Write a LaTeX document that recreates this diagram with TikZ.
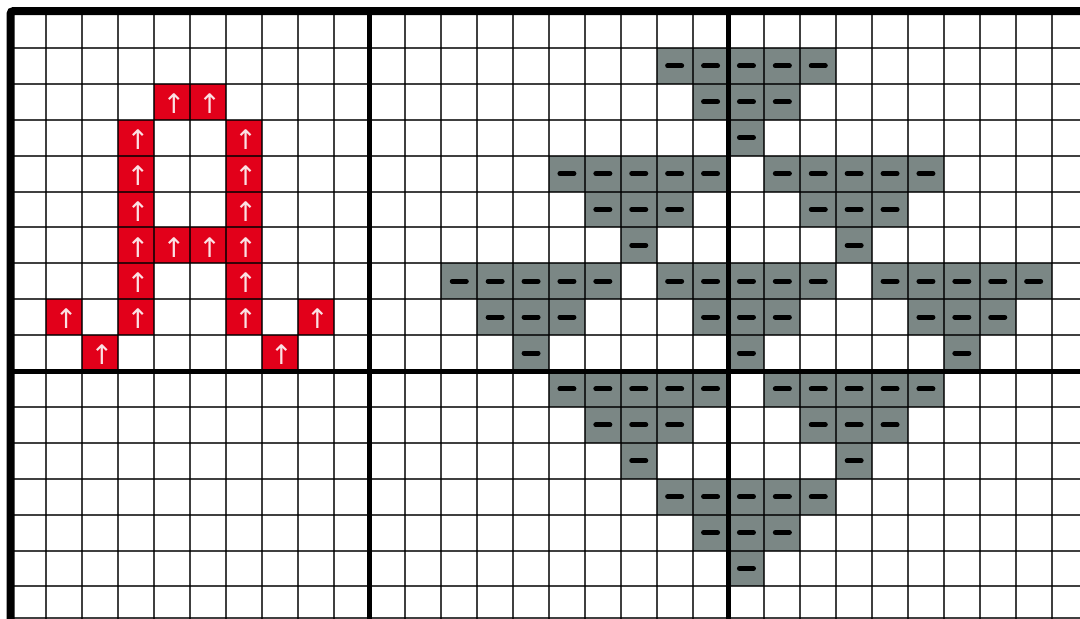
\documentclass[tikz,border=0pt]{standalone}
\usepackage{fontspec}
\newfontfamily\symfont{DejaVu Sans}
\definecolor{stitchred}{RGB}{226,0,26}
\definecolor{stitchgray}{RGB}{123,135,133}
\tikzset{
  thinline/.style={draw=black, draw opacity=0.75, line width=2pt},
  thickline/.style={draw=black, line width=5pt},
  borderline/.style={draw=black, line width=8pt, rounded corners=3pt},
  redcell/.style={fill=stitchred},
  graycell/.style={fill=stitchgray},
  arrowmark/.style={text=white!88!stitchred, inner sep=0pt, font=\symfont\fontsize{27}{27}\selectfont},
  dashmark/.style={draw=black, line width=5pt, line cap=round}
}
\begin{document}
\begin{tikzpicture}[x=1pt,y=-1pt]
\useasboundingbox (0,0) rectangle (1080,619);
\fill[white] (0,0) rectangle (1080,619);
\def\cs{35.9}
\def\ox{10.5}
\def\oy{12}
% red cells (letter A)
\foreach \c/\r in {4/2,5/2,3/3,6/3,3/4,6/4,3/5,6/5,3/6,4/6,5/6,6/6,3/7,6/7,1/8,3/8,6/8,8/8,2/9,7/9}{
  \path[redcell] ({\ox+\c*\cs},{\oy+\r*\cs}) rectangle ({\ox+(\c+1)*\cs},{\oy+(\r+1)*\cs});
}
% gray triangles
\foreach \tc/\tr in {18/1,15/4,21/4,12/7,18/7,24/7,15/10,21/10,18/13}{
  \foreach \dc/\dr in {0/0,1/0,2/0,3/0,4/0,1/1,2/1,3/1,2/2}{
    \pgfmathsetmacro\cc{\tc+\dc}
    \pgfmathsetmacro\rr{\tr+\dr}
    \path[graycell] ({\ox+\cc*\cs},{\oy+\rr*\cs}) rectangle ({\ox+(\cc+1)*\cs},{\oy+(\rr+1)*\cs});
    \coordinate (g-\tc-\tr-\dc-\dr) at ({\ox+(\cc+0.5)*\cs},{\oy+(\rr+0.5)*\cs});
    \draw[dashmark] ([xshift=-7pt]g-\tc-\tr-\dc-\dr) -- ([xshift=7pt]g-\tc-\tr-\dc-\dr);
  }
}
% thin grid lines
\foreach \i in {1,...,9,11,12,...,19,21,22,...,29}{
  \draw[thinline] ({\ox+\i*\cs},11) -- ({\ox+\i*\cs},619);
}
\foreach \j in {1,...,9,11,12,...,16}{
  \draw[thinline] (10,{\oy+\j*\cs}) -- (1080,{\oy+\j*\cs});
}
\draw[thinline] (10,617.6) -- (1080,617.6);
% thick lines
\draw[thickline] ({\ox+10*\cs},11) -- ({\ox+10*\cs},619);
\draw[thickline] ({\ox+20*\cs},11) -- ({\ox+20*\cs},619);
\draw[thickline] (10,{\oy+10*\cs}) -- (1080,{\oy+10*\cs});
\draw[borderline] (10.5,619) -- (10.5,11) -- (1080,11);
% arrows in red cells
\foreach \c/\r in {4/2,5/2,3/3,6/3,3/4,6/4,3/5,6/5,3/6,4/6,5/6,6/6,3/7,6/7,1/8,3/8,6/8,8/8,2/9,7/9}{
  \node[arrowmark] (a-\c-\r) at ({\ox+(\c+0.55)*\cs},{\oy+(\r+0.55)*\cs}) {↑};
}
\end{tikzpicture}
\end{document}
